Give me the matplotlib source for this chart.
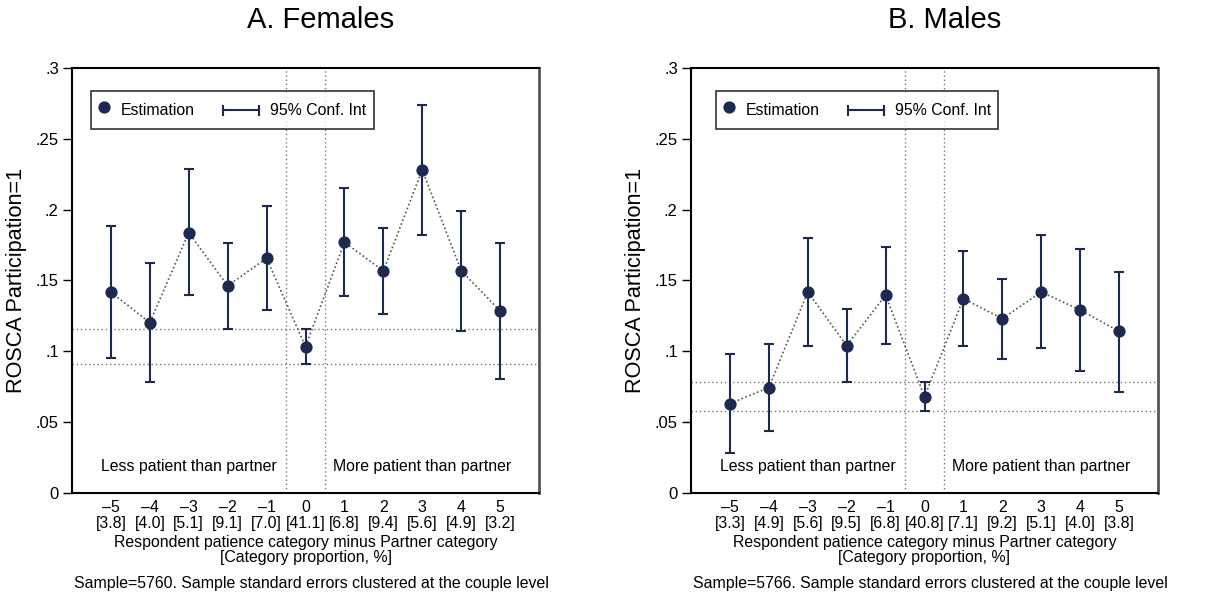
import matplotlib
matplotlib.use("Agg")
import matplotlib.pyplot as plt
from matplotlib.lines import Line2D
from matplotlib.legend_handler import HandlerBase

plt.rcParams['font.family'] = ['Liberation Sans', 'DejaVu Sans']

categories = [-5, -4, -3, -2, -1, 0, 1, 2, 3, 4, 5]

fem_props = ["3.8", "4.0", "5.1", "9.1", "7.0", "41.1", "6.8", "9.4", "5.6", "4.9", "3.2"]
fem_est = [0.1417, 0.1203, 0.1838, 0.1462, 0.1657, 0.1033, 0.1770, 0.1568, 0.2281, 0.1570, 0.1285]
fem_lo = [0.0953, 0.0784, 0.1396, 0.1160, 0.1295, 0.0911, 0.1391, 0.1262, 0.1824, 0.1142, 0.0805]
fem_hi = [0.1886, 0.1624, 0.2286, 0.1766, 0.2025, 0.1156, 0.2152, 0.1874, 0.2742, 0.1994, 0.1768]

male_props = ["3.3", "4.9", "5.6", "9.5", "6.8", "40.8", "7.1", "9.2", "5.1", "4.0", "3.8"]
male_est = [0.0631, 0.0744, 0.1419, 0.1040, 0.1396, 0.0680, 0.1372, 0.1231, 0.1419, 0.1292, 0.1141]
male_lo = [0.0282, 0.0435, 0.1038, 0.0784, 0.1054, 0.0579, 0.1038, 0.0946, 0.1021, 0.0859, 0.0715]
male_hi = [0.0979, 0.1054, 0.1798, 0.1297, 0.1739, 0.0781, 0.1709, 0.1509, 0.1824, 0.1723, 0.1563]

yticks = [0, 0.05, 0.1, 0.15, 0.2, 0.25, 0.3]
ytick_labels = ["0", ".05", ".1", ".15", ".2", ".25", ".3"]

NAVY = '#1b2a4e'
FS = 11.4


class HandlerCI(HandlerBase):
    def create_artists(self, legend, orig_handle, xdescent, ydescent, width, height, fontsize, trans):
        y = height / 2 - ydescent
        x1 = -xdescent + width
        x0 = x1 - 26  # points
        h = Line2D([x0, x1], [y, y], color=NAVY, lw=1.5, transform=trans)
        c0 = Line2D([x0, x0], [y - 3.2, y + 3.2], color=NAVY, lw=1.5, transform=trans)
        c1 = Line2D([x1, x1], [y - 3.2, y + 3.2], color=NAVY, lw=1.5, transform=trans)
        return [h, c0, c1]


class CIProxy:
    pass


def panel(ax, title, title_x, leg_x, props, est, lo, hi, sample):
    ax.axvline(-0.5, color='#777777', lw=1.0, ls=(0, (1, 2)), zorder=1)
    ax.axvline(0.5, color='#777777', lw=1.0, ls=(0, (1, 2)), zorder=1)
    ax.axhline(lo[5], color='#777777', lw=1.0, ls=(0, (1, 2)), zorder=1)
    ax.axhline(hi[5], color='#777777', lw=1.0, ls=(0, (1, 2)), zorder=1)
    ax.plot(categories, est, color='#555555', lw=1.2, ls=(0, (1, 1.5)), zorder=2)
    yerr = [[e - l for e, l in zip(est, lo)], [h - e for e, h in zip(est, hi)]]
    ax.errorbar(categories, est, yerr=yerr, fmt='none', ecolor=NAVY, elinewidth=1.5,
                capsize=3.3, capthick=1.5, zorder=3)
    ax.plot(categories, est, 'o', color=NAVY, ms=7.8, zorder=4)
    ax.set_xlim(-6, 6)
    ax.set_ylim(0, 0.3)
    ax.set_yticks(yticks)
    ax.set_yticklabels(ytick_labels)
    ax.set_xticks(categories)
    ax.set_xticklabels([f"\u2013{abs(c)}\n[{p}]" if c < 0 else f"{c}\n[{p}]"
                        for c, p in zip(categories, props)], linespacing=1.05)
    ax.tick_params(axis='x', length=0, pad=5, labelsize=FS)
    ax.tick_params(axis='y', length=6.5, width=1, labelsize=FS + 0.6, pad=3)
    for s in ['left', 'bottom', 'top']:
        ax.spines[s].set_linewidth(1.5)
        ax.spines[s].set_color('black')
    ax.spines['right'].set_linewidth(2)
    ax.spines['right'].set_color('#555555')
    ax.set_title(title, fontsize=21, pad=29, x=title_x)
    ax.set_ylabel("ROSCA Participation=1", fontsize=15.6, labelpad=6)
    ax.set_xlabel("Respondent patience category minus Partner category\n[Category proportion, %]",
                  fontsize=FS, labelpad=3, linespacing=1.05)
    ax.text(-3, 0.0186, "Less patient than partner", ha='center', va='center', fontsize=FS)
    ax.text(3, 0.0186, "More patient than partner", ha='center', va='center', fontsize=FS)
    ax.text(0.513, -0.212, sample, transform=ax.transAxes, ha='center', va='center', fontsize=FS)
    est_handle = Line2D([], [], marker='o', color=NAVY, ls='none', ms=7.8)
    ci_handle = CIProxy()
    leg = ax.legend([est_handle, ci_handle], ["Estimation", "95% Conf. Int"],
                    handler_map={CIProxy: HandlerCI()}, ncol=2, loc='upper left',
                    bbox_to_anchor=(leg_x, 0.946), borderaxespad=0, frameon=True,
                    fancybox=False, edgecolor='black', fontsize=FS, handlelength=0.76,
                    handleheight=2.0, columnspacing=3.3, handletextpad=0.7, borderpad=0.44)
    leg.get_frame().set_linewidth(1.2)


fig = plt.figure(figsize=(12.16, 5.97), dpi=100)
ax1 = fig.add_axes([72 / 1216, 104 / 597, 467 / 1216, 425 / 597])
ax2 = fig.add_axes([691 / 1216, 104 / 597, 467 / 1216, 425 / 597])
panel(ax1, "A. Females", 0.532, 0.0407, fem_props, fem_est, fem_lo, fem_hi,
      "Sample=5760. Sample standard errors clustered at the couple level")
panel(ax2, "B. Males", 0.544, 0.053, male_props, male_est, male_lo, male_hi,
      "Sample=5766. Sample standard errors clustered at the couple level")
fig.savefig("out.png", dpi=100)
